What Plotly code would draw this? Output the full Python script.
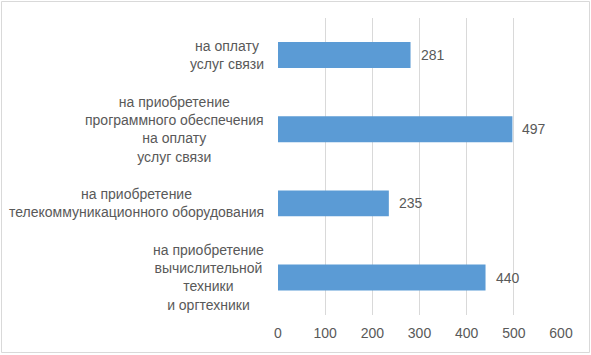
import plotly.graph_objects as go

categories = [
    "на оплату<br>услуг связи",
    "на приобретение<br>программного обеспечения<br>на оплату<br>услуг связи",
    "на приобретение<br>телекоммуникационного оборудования",
    "на приобретение<br>вычислительной<br>техники<br>и оргтехники",
]
values = [281, 497, 235, 440]
x_ticks = [0, 100, 200, 300, 400, 500, 600]

W, H = 591, 355
L, R, T, B = 278, 30, 18, 40
pw, ph = W - L - R, H - T - B
FONT = "Liberation Sans"
GRAY = "#595959"

fig = go.Figure(go.Bar(
    x=values, y=categories, orientation="h",
    marker=dict(color="#5B9BD5", line=dict(width=0)),
    width=0.35,
))

annotations = []
for c, v in zip(categories, values):
    annotations.append(dict(x=v, y=c, xref="x", yref="y", text=str(v),
                            showarrow=False, xanchor="left", xshift=8,
                            font=dict(family=FONT, size=14, color=GRAY)))
    annotations.append(dict(x=-12 / pw, y=c, xref="paper", yref="y", text=c,
                            showarrow=False, xanchor="right", align="center",
                            font=dict(family=FONT, size=14, color=GRAY)))

fig.update_layout(
    width=W, height=H,
    margin=dict(l=L, r=R, t=T, b=B),
    paper_bgcolor="white", plot_bgcolor="white",
    showlegend=False,
    xaxis=dict(range=[0, 600], tickvals=x_ticks, showgrid=True,
               gridcolor="#D9D9D9", gridwidth=1, zeroline=False,
               showline=False, ticks="", ticklabelstandoff=8,
               tickfont=dict(family=FONT, size=14, color=GRAY)),
    yaxis=dict(autorange="reversed", showticklabels=False, showgrid=False,
               zeroline=False, showline=False, ticks=""),
    annotations=annotations,
    shapes=[dict(type="rect", xref="paper", yref="paper",
                 x0=(1.5 - L) / pw, x1=(W - 1.5 - L) / pw,
                 y0=-(B - 2.5) / ph, y1=1 + (T - 1.5) / ph,
                 line=dict(color="#D9D9D9", width=1), layer="below")],
)
fig.write_html("out.html")
